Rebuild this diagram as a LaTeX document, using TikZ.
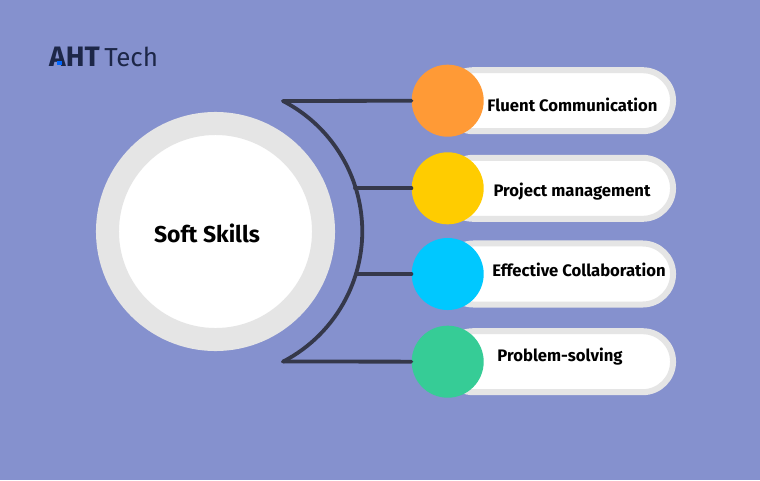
\documentclass[tikz,border=0pt]{standalone}
\usepackage{fontspec}
\setmainfont{Fira Sans}
\definecolor{bgblue}{HTML}{8591CE}
\definecolor{ringgray}{HTML}{E5E5E5}
\definecolor{linedark}{HTML}{35384A}
\definecolor{logonavy}{HTML}{1D2748}
\tikzstyle{pill}=[rectangle,draw=ringgray,fill=white,line width=0.15cm,minimum width=5.75cm,minimum height=1.525cm,rounded corners=0.76cm,inner sep=0pt]
\tikzstyle{dot}=[circle,minimum size=1.8cm,inner sep=0pt]
\tikzstyle{link} = [draw=linedark,line width=0.095cm]
\tikzstyle{skill} = [font=\fontsize{11.85}{14}\selectfont\bfseries,text=black,inner sep=0pt]

\begin{document}
\begin{tikzpicture}[x=0.025cm,y=-0.025cm]

    \useasboundingbox (0,0) rectangle (760,480);
    \fill[bgblue] (0,0) rectangle (760,480);

    % logo
    \node[font=\fontsize{20}{22}\selectfont\bfseries,text=logonavy,inner sep=0pt] (aht) at (74.5,57) {AHT};
    \node[font=\fontsize{18.5}{20}\selectfont,text=logonavy,inner sep=0pt,anchor=west] (tech) at (104,57) {Tech};
    \node[fill=blue!60!cyan,minimum size=0.11cm,inner sep=0pt] (spot) at (59.5,63) {};

    % big circle on the left
    \node[circle,draw=ringgray,fill=white,line width=0.575cm,minimum size=5.4cm,inner sep=0pt] (main) at (215.5,231.5) {};
    \node[font=\fontsize{16.3}{18}\selectfont\bfseries,text=black,inner sep=0pt] (title) at (207,233) {Soft Skills};

    % arc and its ends
    \coordinate (center) at (215.5,231.5);
    \coordinate (top) at (283,101);
    \coordinate (bottom) at (283,361.5);
    \coordinate (j2) at (355,188.3);
    \coordinate (j3) at (357,274);
    \draw[link,line join=round,line cap=round] (top) arc[start angle=-62.6,end angle=62.6,radius=146.8];

    \foreach \y/\name/\col in {100.7/1/FF9A36, 188.3/2/FFCC00, 274/3/00C8FF, 361.7/4/36CC96}
    {
        \definecolor{dotcol}{HTML}{\col}
        \node[pill] (pill\name) at (558,\y+0.0) {};
        \node[dot,fill=dotcol] (dot\name) at (447.7,\y) {};
    }

    \foreach \source/ \dest in {top/dot1, j2/dot2, j3/dot3, bottom/dot4}
        \path[link,line cap=round] (\source) -- (\dest);

    \foreach \x/\y/\name/\txt in {572.5/105/1/Fluent Communication, 572/191.5/2/Project management, 579/270/3/Effective Collaboration, 560/356.5/4/Problem-solving}
        \node[skill] (label\name) at (\x,\y) {\txt};

\end{tikzpicture}
\end{document}
